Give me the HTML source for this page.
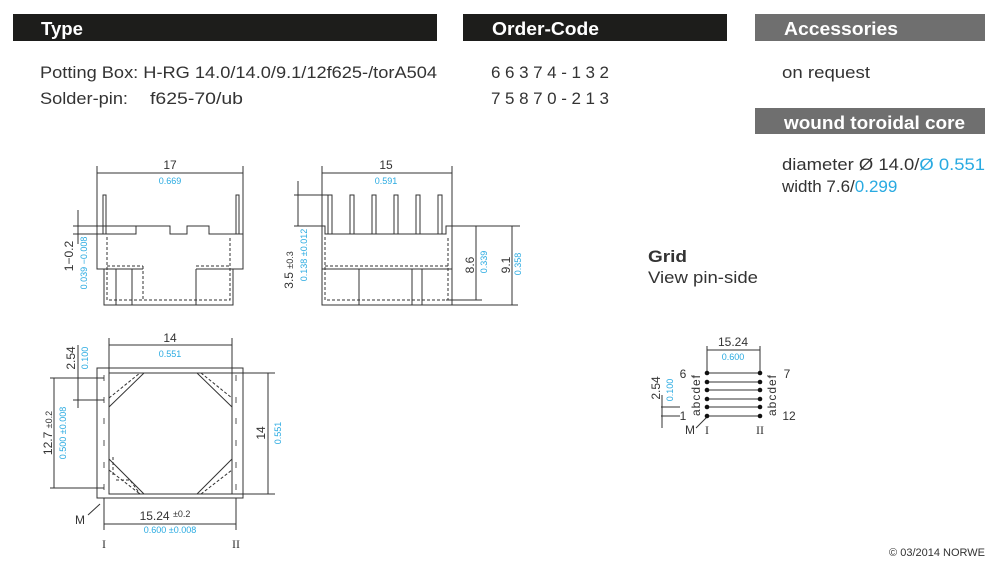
<!DOCTYPE html>
<html><head><meta charset="utf-8"><style>
html,body{margin:0;padding:0;background:#fff;}
svg{display:block;font-family:"Liberation Sans",sans-serif;}
.b{fill:#29aae1}
.k{fill:#333}
</style></head><body>
<svg width="1000" height="572" viewBox="0 0 1000 572" xmlns="http://www.w3.org/2000/svg">
<rect x="13" y="14" width="424" height="27" fill="#1d1d1b"/>
<rect x="463" y="14" width="264" height="27" fill="#1d1d1b"/>
<rect x="755" y="14" width="230" height="27" fill="#6f6f6f"/>
<rect x="755" y="108" width="230" height="26" fill="#6f6f6f"/>
<g fill="#fff" font-weight="bold" font-size="18">
<text x="41" y="35" textLength="42" lengthAdjust="spacingAndGlyphs">Type</text>
<text x="492" y="35" textLength="107" lengthAdjust="spacingAndGlyphs">Order-Code</text>
<text x="784" y="35" textLength="114" lengthAdjust="spacingAndGlyphs">Accessories</text>
<text x="784" y="129" textLength="181" lengthAdjust="spacingAndGlyphs">wound toroidal core</text>
</g>
<g class="k" font-size="17">
<text x="40" y="78" textLength="397" lengthAdjust="spacingAndGlyphs">Potting Box: H-RG 14.0/14.0/9.1/12f625-/torA504</text>
<text x="40" y="104" textLength="88" lengthAdjust="spacingAndGlyphs">Solder-pin:</text>
<text x="150" y="104" textLength="93" lengthAdjust="spacingAndGlyphs">f625-70/ub</text>
<text x="491" y="78" textLength="118" lengthAdjust="spacing">66374-132</text>
<text x="491" y="104" textLength="118" lengthAdjust="spacing">75870-213</text>
<text x="782" y="78" textLength="88" lengthAdjust="spacingAndGlyphs">on request</text>
<text x="782" y="170" textLength="203" lengthAdjust="spacingAndGlyphs"><tspan>diameter Ø 14.0/</tspan><tspan class="b">Ø 0.551</tspan></text>
<text x="782" y="192"><tspan>width 7.6/</tspan><tspan class="b">0.299</tspan></text>
<text x="648" y="262" font-weight="bold" textLength="39" lengthAdjust="spacingAndGlyphs">Grid</text>
<text x="648" y="283" textLength="110" lengthAdjust="spacingAndGlyphs">View pin-side</text>
</g>
<text x="985" y="556" font-size="11" text-anchor="end" class="k">© 03/2014 NORWE</text>

<g stroke="#333" stroke-width="1" fill="none">
<line x1="97" y1="166" x2="97" y2="234"/><line x1="243" y1="166" x2="243" y2="234"/>
<line x1="97" y1="173" x2="243" y2="173"/>
<rect x="103" y="195" width="3" height="39"/><rect x="236" y="195" width="3" height="39"/>
<path d="M97 234 H136 V226 H170 V234 H187 V226 H209 V234 H243 V269 H233 V305 H104 V269 H97 Z"/>
<line x1="104" y1="269" x2="143" y2="269"/><line x1="196" y1="269" x2="233" y2="269"/>
<line x1="116" y1="269" x2="116" y2="305"/><line x1="132" y1="269" x2="132" y2="305"/><line x1="196" y1="269" x2="196" y2="305"/>
<path d="M107 237 V300 H230 V237 M143 266 V300 M107 266 H143 M196 266 H230" stroke-dasharray="3,2"/>
<line x1="73" y1="226" x2="136" y2="226"/><line x1="73" y1="234" x2="97" y2="234"/>
<line x1="78" y1="210" x2="78" y2="244"/>
<line x1="322" y1="166" x2="322" y2="226"/><line x1="452" y1="166" x2="452" y2="226"/>
<line x1="322" y1="173" x2="452" y2="173"/>
<g>
<rect x="328" y="195" width="4" height="39"/><rect x="350" y="195" width="4" height="39"/><rect x="372" y="195" width="4" height="39"/>
<rect x="394" y="195" width="4" height="39"/><rect x="416" y="195" width="4" height="39"/><rect x="438" y="195" width="4" height="39"/>
</g>
<path d="M322 226 H325 V234 H446 V226 H452 V305 H322 Z"/>
<line x1="322" y1="269" x2="452" y2="269"/>
<line x1="359" y1="269" x2="359" y2="305"/><line x1="412" y1="269" x2="412" y2="305"/><line x1="422" y1="269" x2="422" y2="305"/>
<path d="M325 237 V300 H448 V237 M325 266 H448" stroke-dasharray="3,2"/>
<line x1="294" y1="195" x2="328" y2="195"/><line x1="294" y1="226" x2="322" y2="226"/>
<line x1="298" y1="181" x2="298" y2="226"/>
<line x1="452" y1="226" x2="520" y2="226"/><line x1="446" y1="300" x2="482" y2="300"/><line x1="452" y1="305" x2="518" y2="305"/>
<line x1="476" y1="226" x2="476" y2="300"/><line x1="512" y1="226" x2="512" y2="305"/>
<rect x="97" y="368" width="146" height="130"/>
<rect x="109" y="373" width="123" height="121"/>
<line x1="109" y1="338" x2="109" y2="373"/><line x1="232" y1="338" x2="232" y2="373"/>
<line x1="109" y1="345" x2="232" y2="345"/>
<path d="M109 407 L144 373 M197 373 L232 407 M109 459 L144 494 M197 494 L232 459"/>
<path d="M109 398 L140 373 M201 373 L232 398 M201 494 L232 470 M109 470 L140 494 M113 475 V455 M116 480 L130 480 L140 494" stroke-dasharray="3,2"/>
<g stroke="#555"><line x1="104" y1="375" x2="104" y2="381"/><line x1="104" y1="397" x2="104" y2="403"/><line x1="104" y1="418" x2="104" y2="424"/><line x1="104" y1="440" x2="104" y2="446"/><line x1="104" y1="462" x2="104" y2="468"/><line x1="104" y1="484" x2="104" y2="490"/>
<line x1="236" y1="375" x2="236" y2="381"/><line x1="236" y1="397" x2="236" y2="403"/><line x1="236" y1="418" x2="236" y2="424"/><line x1="236" y1="440" x2="236" y2="446"/><line x1="236" y1="462" x2="236" y2="468"/><line x1="236" y1="484" x2="236" y2="490"/></g>
<line x1="232" y1="373" x2="275" y2="373"/><line x1="232" y1="494" x2="275" y2="494"/>
<line x1="268" y1="373" x2="268" y2="494"/>
<line x1="50" y1="378" x2="104" y2="378"/><line x1="50" y1="488" x2="104" y2="488"/>
<line x1="54" y1="378" x2="54" y2="488"/>
<line x1="73" y1="400" x2="104" y2="400"/>
<line x1="78" y1="345" x2="78" y2="408"/>
<line x1="104" y1="498" x2="104" y2="530"/><line x1="236" y1="498" x2="236" y2="530"/>
<line x1="104" y1="524" x2="236" y2="524"/>
<line x1="88" y1="515" x2="100" y2="504"/>
<line x1="707" y1="346" x2="707" y2="373"/><line x1="760" y1="346" x2="760" y2="373"/>
<line x1="707" y1="350" x2="760" y2="350"/>
<line x1="707" y1="373" x2="760" y2="373"/><line x1="707" y1="382" x2="760" y2="382"/><line x1="707" y1="390" x2="760" y2="390"/>
<line x1="707" y1="399" x2="760" y2="399"/><line x1="707" y1="407" x2="760" y2="407"/><line x1="707" y1="416" x2="760" y2="416"/>
<line x1="661" y1="407" x2="680" y2="407"/><line x1="661" y1="416" x2="680" y2="416"/>
<line x1="662" y1="395" x2="662" y2="428"/>
<line x1="696" y1="428" x2="707" y2="417"/>
</g>
<g fill="#111">
<circle cx="707" cy="373" r="2.3"/><circle cx="707" cy="382" r="2.3"/><circle cx="707" cy="390" r="2.3"/><circle cx="707" cy="399" r="2.3"/><circle cx="707" cy="407" r="2.3"/><circle cx="707" cy="416" r="2.3"/>
<circle cx="760" cy="373" r="2.3"/><circle cx="760" cy="382" r="2.3"/><circle cx="760" cy="390" r="2.3"/><circle cx="760" cy="399" r="2.3"/><circle cx="760" cy="407" r="2.3"/><circle cx="760" cy="416" r="2.3"/>
</g>
<g class="k" font-size="12" text-anchor="middle">
<text x="170" y="169">17</text>
<text x="386" y="169">15</text>
<text x="170" y="342">14</text>
<text x="165" y="520">15.24 <tspan font-size="9" dy="-3">±0.2</tspan></text>
<text x="733" y="346">15.24</text>
<text x="683" y="378">6</text><text x="787" y="378">7</text>
<text x="683" y="420">1</text><text x="789" y="420">12</text>
<text x="80" y="524">M</text><text x="690" y="434">M</text>
<text x="104" y="548" font-family="Liberation Serif">I</text><text x="236" y="548" font-family="Liberation Serif">II</text>
<text x="707" y="434" font-family="Liberation Serif">I</text><text x="760" y="434" font-family="Liberation Serif">II</text>
<text transform="translate(73,256) rotate(-90)">1−0.2</text>
<text transform="translate(293,270) rotate(-90)">3.5 <tspan font-size="9">±0.3</tspan></text>
<text transform="translate(474,265) rotate(-90)">8.6</text>
<text transform="translate(510,265) rotate(-90)">9.1</text>
<text transform="translate(265,433) rotate(-90)">14</text>
<text transform="translate(52,433) rotate(-90)">12.7 <tspan font-size="9">±0.2</tspan></text>
<text transform="translate(75,358) rotate(-90)">2.54</text>
<text transform="translate(660,388) rotate(-90)">2.54</text>
<text transform="translate(700,395) rotate(-90)" letter-spacing="1">abcdef</text>
<text transform="translate(776,395) rotate(-90)" letter-spacing="1">abcdef</text>
</g>
<g class="b" font-size="9" text-anchor="middle">
<text x="170" y="184">0.669</text>
<text x="386" y="184">0.591</text>
<text x="170" y="357">0.551</text>
<text x="170" y="533">0.600 ±0.008</text>
<text x="733" y="360">0.600</text>
<text transform="translate(87,263) rotate(-90)">0.039 −0.008</text>
<text transform="translate(307,255) rotate(-90)">0.138 ±0.012</text>
<text transform="translate(487,262) rotate(-90)">0.339</text>
<text transform="translate(521,264) rotate(-90)">0.358</text>
<text transform="translate(281,433) rotate(-90)">0.551</text>
<text transform="translate(66,433) rotate(-90)">0.500 ±0.008</text>
<text transform="translate(88,358) rotate(-90)">0.100</text>
<text transform="translate(673,390) rotate(-90)">0.100</text>
</g>
</svg>
</body></html>
